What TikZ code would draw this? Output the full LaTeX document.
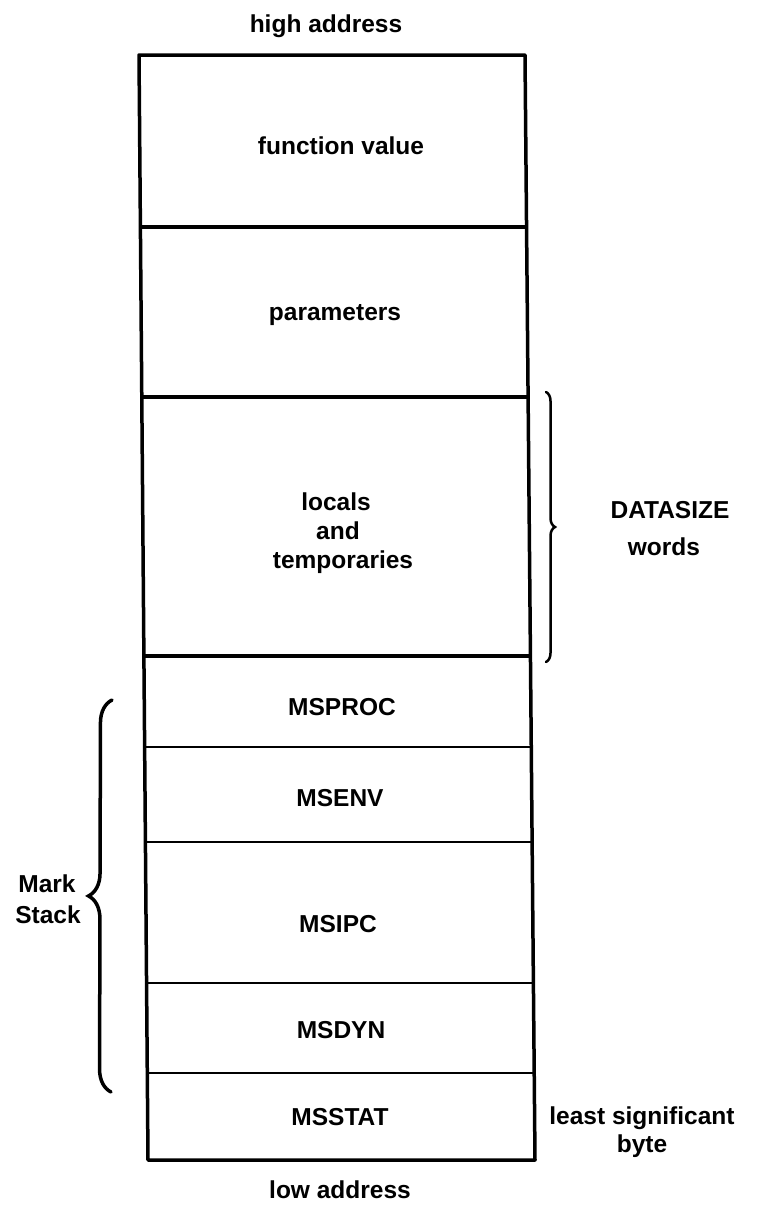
\documentclass[tikz,border=0pt]{standalone}
\usepackage{fontspec}
\setmainfont{Liberation Sans}
\usetikzlibrary{decorations.pathreplacing}
\begin{document}
\begin{tikzpicture}[x=1pt,y=-1pt,
  lbl/.style={font=\bfseries\fontsize{24.5}{29}\selectfont, inner sep=0pt, anchor=base},
  outer/.style={line width=3.5pt, line join=round, line cap=round},
  thickdiv/.style={line width=4.5pt},
  thindiv/.style={line width=2.5pt},
  bracestyle/.style={decorate, decoration={brace, amplitude=#1}, line cap=round}]
\useasboundingbox (0,0) rectangle (757,1205);
% frame corners and row boundaries (left l*, right r*)
\coordinate (l0) at (139,55);    \coordinate (r0) at (525,55);
\coordinate (l1) at (140.4,227); \coordinate (r1) at (526.6,227);
\coordinate (l2) at (141.8,397); \coordinate (r2) at (528.1,397);
\coordinate (l3) at (143.9,656); \coordinate (r3) at (530.4,656);
\coordinate (l4) at (144.6,747); \coordinate (r4) at (531.3,747);
\coordinate (l5) at (145.4,842); \coordinate (r5) at (532.1,842);
\coordinate (l6) at (146.6,983); \coordinate (r6) at (533.4,983);
\coordinate (l7) at (147.3,1073);\coordinate (r7) at (534.2,1073);
\coordinate (l8) at (148,1160);  \coordinate (r8) at (535,1160);
% dividers
\draw[thickdiv] (l1) -- (r1);
\draw[thickdiv] (l2) -- (r2);
\draw[thickdiv] (l3) -- (r3);
\draw[thindiv] (l4) -- (r4);
\draw[thindiv] (l5) -- (r5);
\draw[thindiv] (l6) -- (r6);
\draw[thindiv] (l7) -- (r7);
% outer frame
\draw[outer] (l0) -- (r0) -- (r8) -- (l8) -- cycle;
% labels
\node[lbl] (high) at (326,32) {high address};
\node[lbl] (fv) at (341,154) {function value};
\node[lbl] (par) at (335,320) {parameters};
\node[lbl] (loc) at (336,510) {locals};
\node[lbl] (and) at (338,539) {and};
\node[lbl] (tmp) at (343,568) {temporaries};
\node[lbl] (msproc) at (342,715) {MSPROC};
\node[lbl] (msenv) at (340,806) {MSENV};
\node[lbl] (msipc) at (338,932) {MSIPC};
\node[lbl] (msdyn) at (341,1038) {MSDYN};
\node[lbl] (msstat) at (340,1125) {MSSTAT};
\node[lbl] (low) at (340,1198) {low address};
\node[lbl] (ds) at (670,518) {DATASIZE};
\node[lbl] (words) at (664,555) {words};
\node[lbl] (lsb) at (642,1124) {least significant};
\node[lbl] (byte) at (642,1152) {byte};
\node[lbl] (mark) at (47,892) {Mark};
\node[lbl] (stack) at (48,923) {Stack};
% braces
\coordinate (dsTop) at (546,392);
\coordinate (dsBot) at (546,662);
\draw[bracestyle=9, line width=2.5pt] (dsTop) -- (dsBot);
\coordinate (msTop) at (112,700);
\coordinate (msBot) at (111,1092);
\draw[bracestyle=23, line width=3.5pt] (msBot) -- (msTop);
\end{tikzpicture}
\end{document}
